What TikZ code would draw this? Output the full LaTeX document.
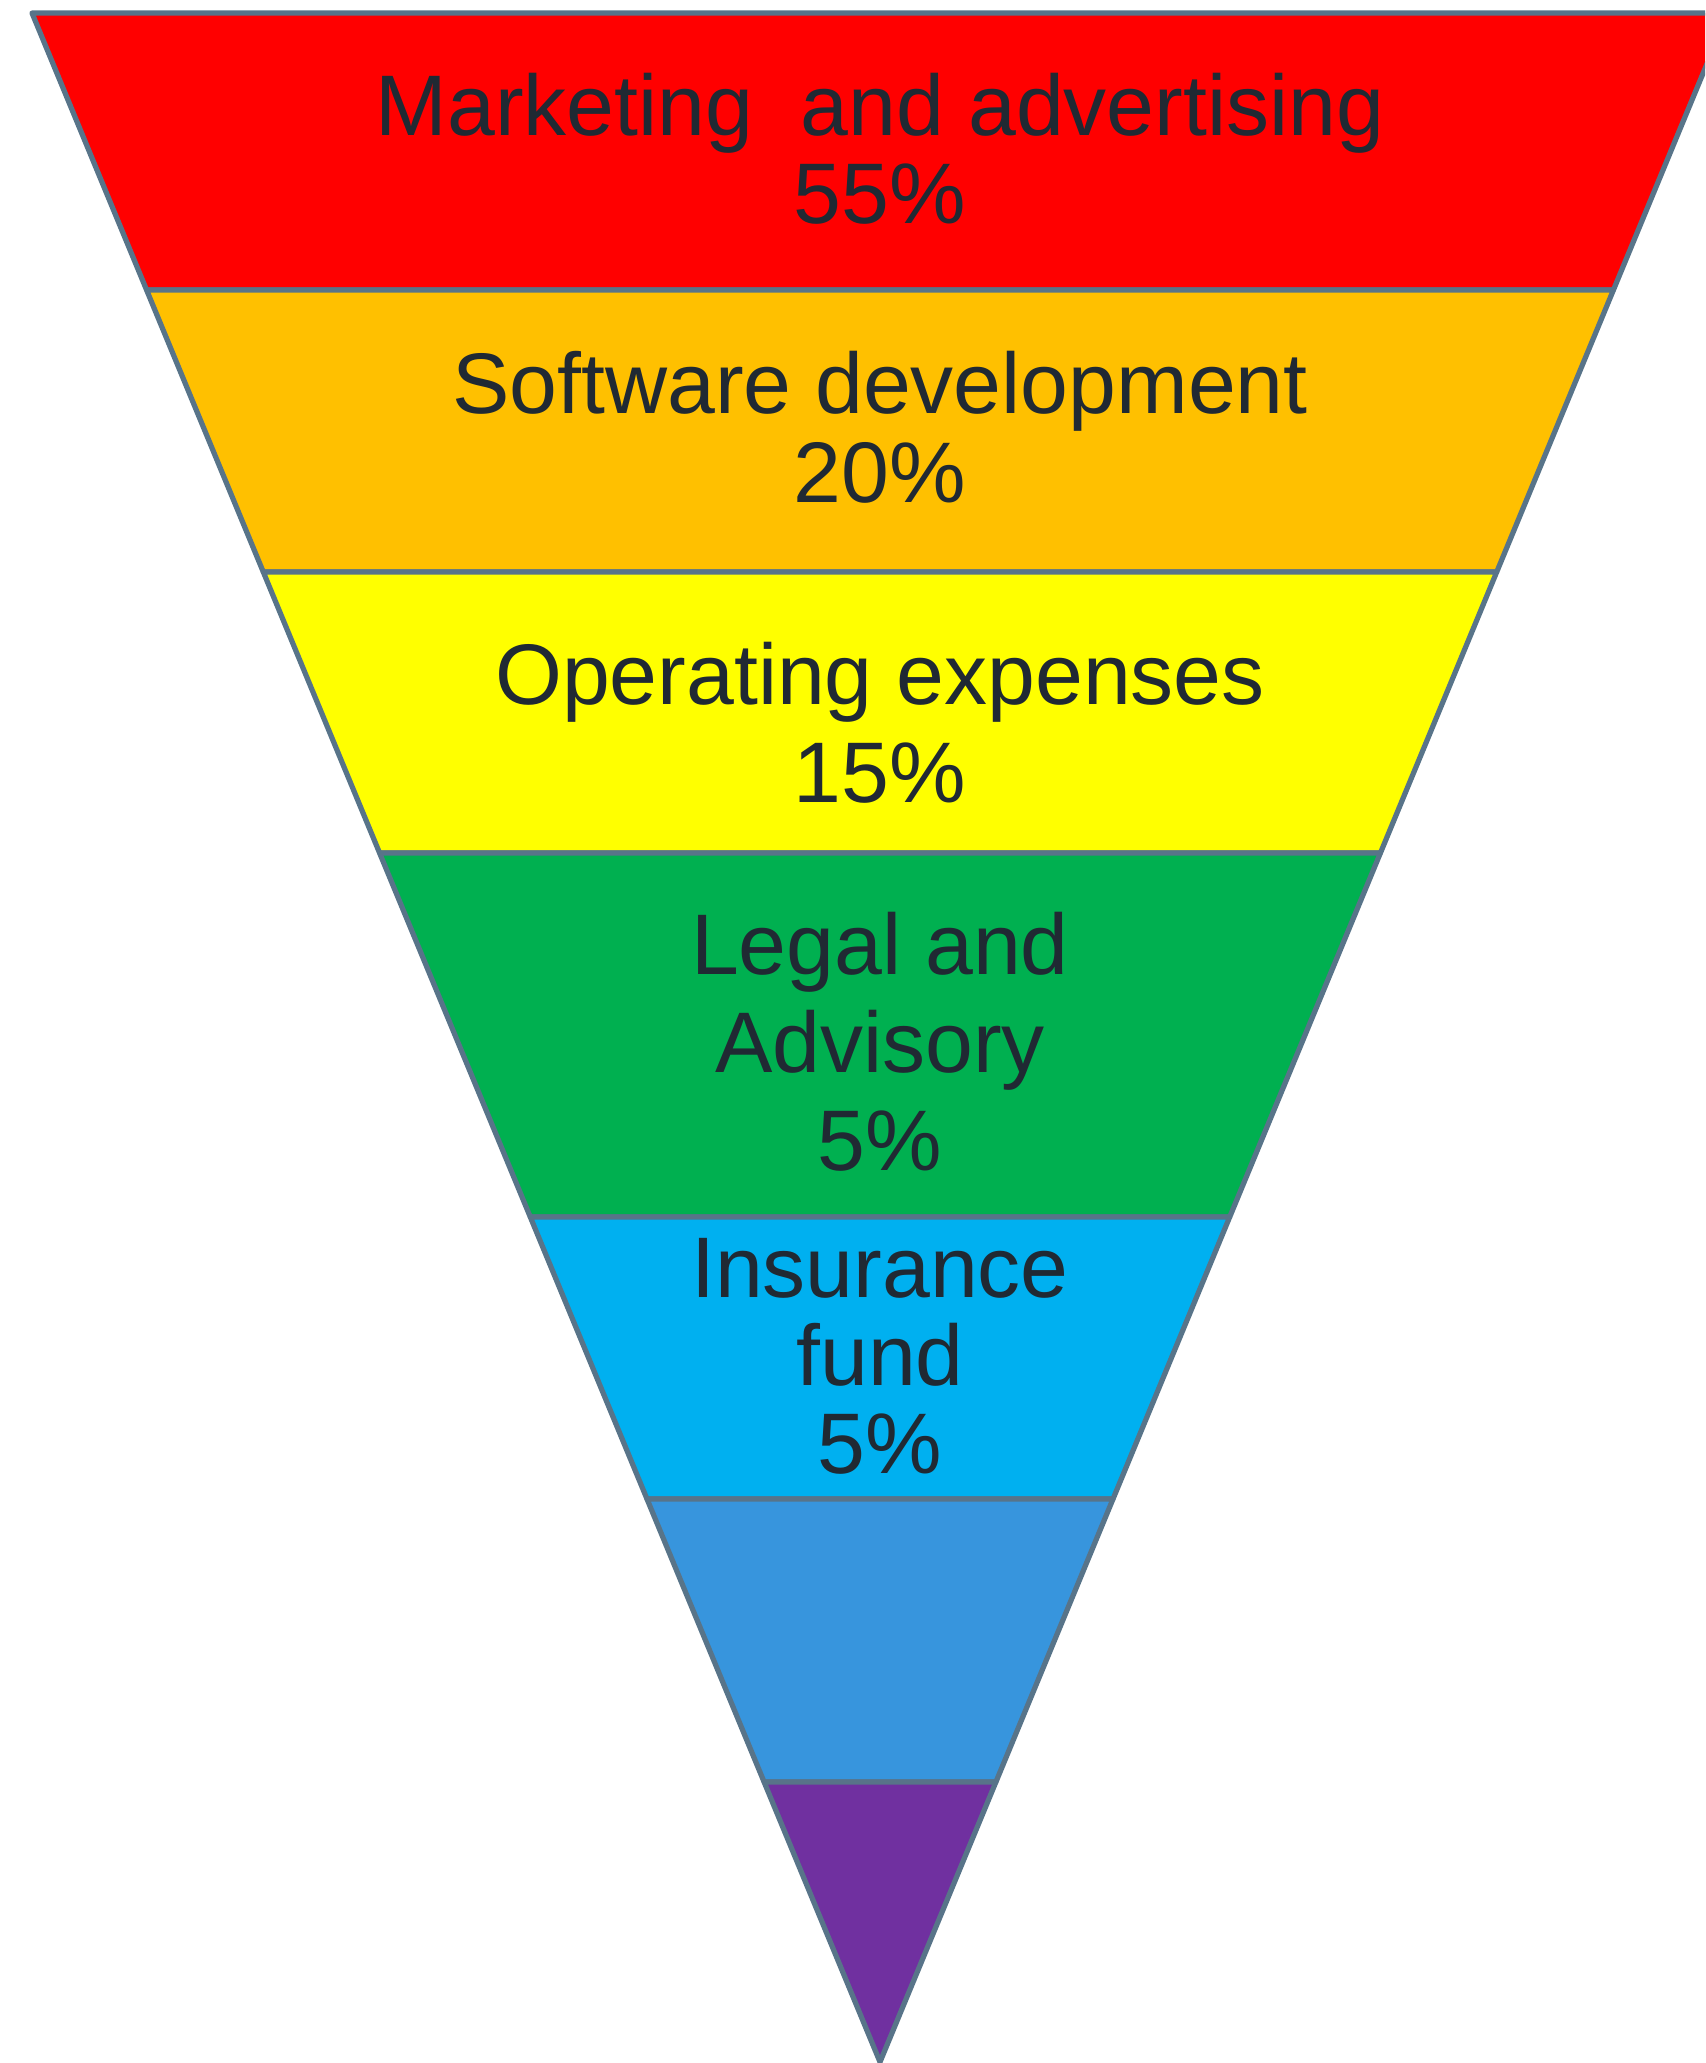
\documentclass[tikz,border=0pt]{standalone}
\usepackage{fontspec}
\setmainfont{Liberation Sans}
\definecolor{edge}{RGB}{88,116,137}
\definecolor{ink}{RGB}{32,41,51}
\definecolor{cRed}{RGB}{255,0,0}
\definecolor{cOrange}{RGB}{255,192,0}
\definecolor{cYellow}{RGB}{255,255,0}
\definecolor{cGreen}{RGB}{0,176,80}
\definecolor{cCyan}{RGB}{0,176,240}
\definecolor{cBlue}{RGB}{55,149,221}
\definecolor{cPurple}{RGB}{112,48,160}
\begin{document}
\begin{tikzpicture}[x=0.5pt,y=-0.5pt,
  band/.style={draw=edge,line width=2.6pt,line join=round},
  lbl/.style={anchor=base,inner sep=0pt,text=ink,font=\fontsize{43}{44}\selectfont}]
\useasboundingbox (0,0) rectangle (1705,2063);
\begin{scope}
\clip (0,0) rectangle (1705,2063);
\draw[band,fill=cRed]    (32,13) -- (1728,13) -- (1613.4,290) -- (146.6,290) -- cycle;
\draw[band,fill=cOrange] (146.6,290) -- (1613.4,290) -- (1496.7,572) -- (263.3,572) -- cycle;
\draw[band,fill=cYellow] (263.3,572) -- (1496.7,572) -- (1380.4,853) -- (379.6,853) -- cycle;
\draw[band,fill=cGreen]  (379.6,853) -- (1380.4,853) -- (1229.7,1217) -- (530.3,1217) -- cycle;
\draw[band,fill=cCyan]   (530.3,1217) -- (1229.7,1217) -- (1113,1499) -- (647,1499) -- cycle;
\draw[band,fill=cBlue]   (647,1499) -- (1113,1499) -- (995.9,1782) -- (764.1,1782) -- cycle;
\draw[band,fill=cPurple] (764.1,1782) -- (995.9,1782) -- (880,2062) -- cycle;
\end{scope}
\node[lbl] (m1) at (880,135) {Marketing\ \ and advertising};
\node[lbl] (m2) at (880,223) {55\%};
\node[lbl] (s1) at (880,413) {Software development};
\node[lbl] (s2) at (880,502) {20\%};
\node[lbl] (o1) at (880,704) {Operating expenses};
\node[lbl] (o2) at (880,802) {15\%};
\node[lbl] (l1) at (880,974) {Legal and};
\node[lbl] (l2) at (880,1072) {Advisory};
\node[lbl] (l3) at (880,1170) {5\%};
\node[lbl] (i1) at (880,1297) {Insurance};
\node[lbl] (i2) at (880,1385) {fund};
\node[lbl] (i3) at (880,1473) {5\%};
\end{tikzpicture}
\end{document}
